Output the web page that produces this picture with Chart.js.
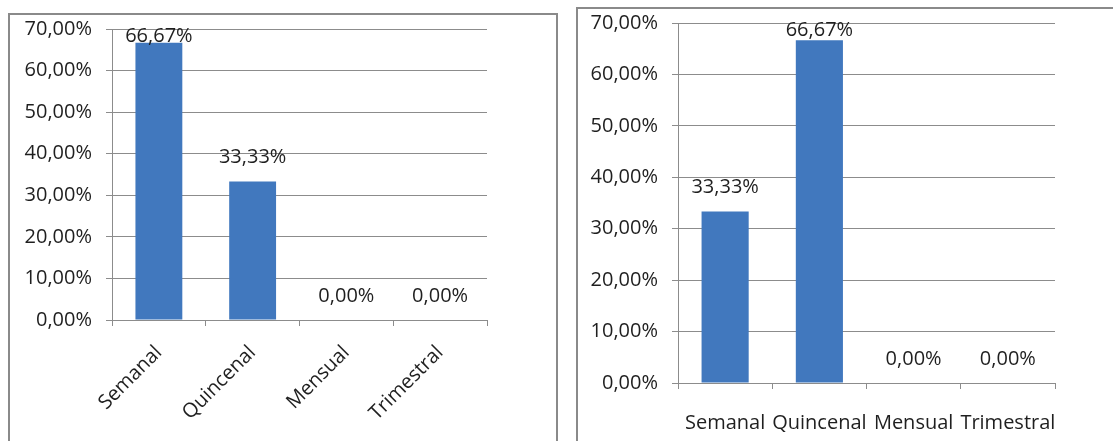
<!DOCTYPE html>
<html>
<head>
<meta charset="utf-8">
<script src="https://cdn.jsdelivr.net/npm/chart.js@4.4.1/dist/chart.umd.min.js"></script>
<style>
  html, body { margin: 0; padding: 0; background: #fff; overflow: hidden; width: 1113px; height: 441px; }
  .marco { position: absolute; border: 2px solid #8a8a8a; background: #fff; }
  #marcoIzq { left: 8px; top: 13px; width: 546px; height: 440px; }
  #marcoDer { left: 576px; top: 7px; width: 600px; height: 440px; }
  .lienzo { position: absolute; left: 0; top: 0; }
  #lienzoIzq { width: 546px; height: 426px; }
  #lienzoDer { width: 540px; height: 432px; }
</style>
</head>
<body>
<div class="marco" id="marcoIzq"><div class="lienzo" id="lienzoIzq"><canvas id="graficoIzq"></canvas></div></div>
<div class="marco" id="marcoDer"><div class="lienzo" id="lienzoDer"><canvas id="graficoDer"></canvas></div></div>
<script>
// frecuencias y porcentajes de cada gráfico
const categorias = ['Semanal', 'Quincenal', 'Mensual', 'Trimestral'];
const valoresIzq = [66.67, 33.33, 0, 0];
const valoresDer = [33.33, 66.67, 0, 0];
const ejeYMin = 0;
const ejeYMax = 70;
const ejeYPaso = 10;

const AZUL = '#4178BE';
const GRIS = '#8c8c8c';
const TEXTO = '#1f1f1f';
const FUENTE = { family: '"Open Sans", sans-serif', size: 20 };

function pct(v) {
  return v.toFixed(2).replace('.', ',') + '%';
}

// etiqueta de valor encima de cada barra (se queda dentro del área del gráfico)
const etiquetasValor = {
  id: 'etiquetasValor',
  afterDatasetsDraw(chart) {
    const ctx = chart.ctx;
    const area = chart.chartArea;
    const meta = chart.getDatasetMeta(0);
    const datos = chart.data.datasets[0].data;
    ctx.save();
    ctx.font = FUENTE.size + 'px ' + FUENTE.family;
    ctx.fillStyle = TEXTO;
    ctx.textAlign = 'center';
    ctx.textBaseline = 'middle';
    meta.data.forEach(function (barra, i) {
      const y = Math.max(barra.y - 24, area.top + 7);
      ctx.fillText(pct(datos[i]), barra.x, y);
    });
    ctx.restore();
  }
};

function crearGrafico(id, valores, cfg) {
  return new Chart(document.getElementById(id), {
    type: 'bar',
    data: {
      labels: categorias,
      datasets: [{
        data: valores,
        backgroundColor: AZUL,
        borderWidth: 0,
        categoryPercentage: 1,
        barPercentage: 0.5
      }]
    },
    options: {
      responsive: true,
      maintainAspectRatio: false,
      animation: false,
      layout: { padding: { left: 0, top: 14, right: cfg.derecha, bottom: 0 } },
      plugins: { legend: { display: false }, tooltip: { enabled: false } },
      scales: {
        x: {
          offset: true,
          grid: { display: true, drawOnChartArea: false, drawTicks: true, tickLength: 6, color: GRIS, offset: true },
          border: { display: true, color: GRIS, width: 1 },
          ticks: {
            color: TEXTO, font: FUENTE, padding: cfg.padX,
            minRotation: cfg.giro, maxRotation: cfg.giro, autoSkip: false
          },
          afterFit: function (s) {
            s.height = cfg.altoX;
            s.paddingLeft = 0; s.paddingRight = 0;
          }
        },
        y: {
          min: ejeYMin, max: ejeYMax,
          grid: { color: GRIS, tickLength: 6 },
          border: { display: true, color: GRIS, width: 1 },
          ticks: {
            stepSize: ejeYPaso, color: TEXTO, font: FUENTE, padding: 14,
            callback: function (v) { return pct(v); }
          },
          afterFit: function (s) {
            s.width = cfg.anchoY;
            s.paddingTop = 0; s.paddingBottom = 0;
          }
        }
      }
    },
    plugins: [etiquetasValor]
  });
}

crearGrafico('graficoIzq', valoresIzq, { derecha: 69, altoX: 121, anchoY: 102, giro: 45, padX: 15 });
crearGrafico('graficoDer', valoresDer, { derecha: 63, altoX: 58, anchoY: 100, giro: 0, padX: 22 });
</script>
</body>
</html>
